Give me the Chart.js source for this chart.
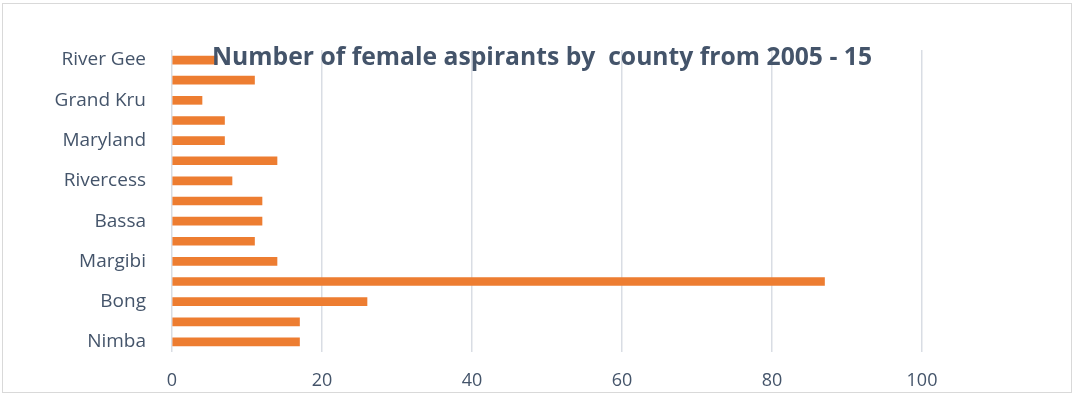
<!DOCTYPE html>
<html>
<head>
<meta charset="utf-8">
<script src="https://cdn.jsdelivr.net/npm/chart.js@4"></script>
<style>
  body { margin: 0; background: #fff; }
  #wrap { position: relative; width: 1076px; height: 397px; }
  #frame { position: absolute; left: 2px; top: 3px; width: 1070px; height: 390px; border: 1px solid #d9d9d9; box-sizing: border-box; }
  canvas { position: absolute; left: 0; top: 0; }
</style>
</head>
<body>
<div id="wrap">
  <div id="frame"></div>
  <canvas id="femaleChart" width="1076" height="397"></canvas>
</div>
<script>
// counties, bottom to top as drawn (only every other name is shown on the axis)
const counties = ["Nimba", "Lofa", "Bong", "Montserrado", "Margibi", "Bomi", "Bassa", "Cape Mount",
                  "Rivercess", "Sinoe", "Maryland", "Grand Gedeh", "Grand Kru", "Gbarpolu", "River Gee"];
const aspirants = [17, 17, 26, 87, 14, 11, 12, 12, 8, 14, 7, 7, 4, 11, 6];
const xTicks = [0, 20, 40, 60, 80, 100];
const chartTitle = "Number of female aspirants by  county from 2005 - 15";

// category axis runs top-down in Chart.js, so reverse for the picture
const labels = counties.slice().reverse();
const values = aspirants.slice().reverse();

const overlayTitle = {
    id: "overlayTitle",
    afterDraw(chart) {
        const ctx = chart.ctx;
        ctx.save();
        ctx.font = "bold 25px 'Open Sans', sans-serif";
        ctx.fillStyle = "#44546a";
        ctx.textAlign = "center";
        ctx.textBaseline = "middle";
        ctx.fillText(chartTitle, 542, 58, 660);
        ctx.restore();
    }
};

const barFill = (context) => {
    const el = context.element;
    const ctx = context.chart.ctx;
    if (!el || el.y === undefined) return "#ed7d31";
    const g = ctx.createLinearGradient(0, el.y - 4, 0, el.y + 4);
    g.addColorStop(0, "#f4a06a");
    g.addColorStop(0.5, "#f08237");
    g.addColorStop(1, "#e2691a");
    return g;
};

const femaleChart = new Chart(document.getElementById("femaleChart"), {
    type: "bar",
    data: {
        labels: labels,
        datasets: [{
            label: "Female aspirants",
            data: values,
            backgroundColor: barFill,
            borderWidth: 0,
            barThickness: 8
        }]
    },
    options: {
        indexAxis: "y",
        responsive: false,
        animation: false,
        layout: { padding: { top: 50, right: 154, left: 0, bottom: 0 } },
        plugins: {
            legend: { display: false },
            tooltip: { enabled: false }
        },
        scales: {
            x: {
                min: 0,
                max: 100,
                afterFit(scale) { scale.height = 45; },
                afterBuildTicks(scale) { scale.ticks = xTicks.map(v => ({ value: v })); },
                grid: { color: "#d9dde4", lineWidth: 1.5, drawTicks: false },
                border: { display: false },
                ticks: {
                    padding: 18,
                    color: "#44546a",
                    font: { family: "'Open Sans', sans-serif", size: 18 }
                }
            },
            y: {
                afterFit(scale) { scale.width = 172; },
                grid: { display: false },
                border: { display: false },
                ticks: {
                    autoSkip: false,
                    padding: 18,
                    color: "#44546a",
                    font: { family: "'Open Sans', sans-serif", size: 19 },
                    callback(value, index) {
                        return index % 2 === 0 ? this.getLabelForValue(value) : "";
                    }
                }
            }
        }
    },
    plugins: [overlayTitle]
});
</script>
</body>
</html>
